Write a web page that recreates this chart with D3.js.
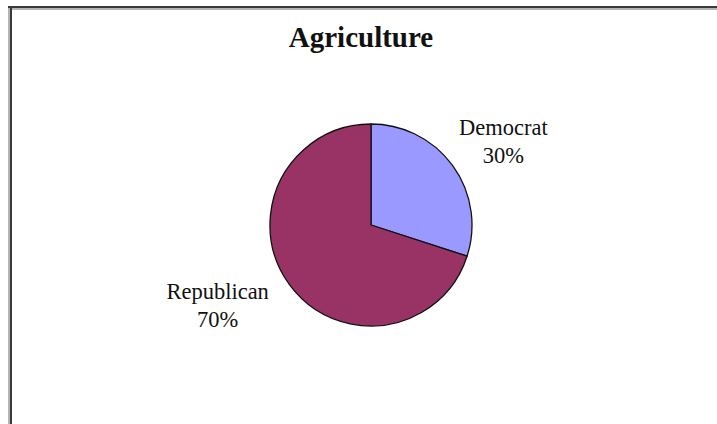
<!DOCTYPE html>
<html>
<head>
<meta charset="utf-8">
<script src="https://cdn.jsdelivr.net/npm/d3@7"></script>
<style>
  html, body { margin: 0; padding: 0; background: #fff; }
  svg { display: block; }
  text { font-family: "Liberation Serif", "Times New Roman", serif; fill: #111; }
</style>
</head>
<body>
<svg id="chart" width="717" height="424"></svg>
<script>
// Party share of agriculture contributions
const title = "Agriculture";
const parties = ["Democrat", "Republican"];
const shares = [30, 70];
const partyColors = ["#9999FF", "#993366"];

const W = 717, H = 424;
const svg = d3.select("#chart");

// Chart area frame (sunken border along the top and left edges)
svg.append("rect").attr("x", 8).attr("y", 6).attr("width", W - 8).attr("height", 2).attr("fill", "#3a3a3a");
svg.append("rect").attr("x", 12).attr("y", 8).attr("width", W - 12).attr("height", 2).attr("fill", "#b4b4b4");
svg.append("rect").attr("x", 8).attr("y", 8).attr("width", 2).attr("height", H - 8).attr("fill", "#b4b4b4");
svg.append("rect").attr("x", 10).attr("y", 8).attr("width", 2).attr("height", H - 8).attr("fill", "#3a3a3a");

// Title
svg.append("text")
  .attr("x", 361).attr("y", 47)
  .attr("text-anchor", "middle")
  .style("font-size", "29px").style("font-weight", "bold")
  .text(title);

// Pie
const cx = 371, cy = 225, radius = 101;
const data = parties.map((p, i) => ({ party: p, value: shares[i], color: partyColors[i] }));
const pie = d3.pie().value(d => d.value).sort(null);
const arc = d3.arc().innerRadius(0).outerRadius(radius);
const arcs = pie(data);

const g = svg.append("g").attr("transform", `translate(${cx},${cy})`);
g.selectAll("path.slice")
  .data(arcs)
  .join("path")
  .attr("class", "slice")
  .attr("d", arc)
  .attr("fill", d => d.data.color)
  .attr("stroke", "#111")
  .attr("stroke-width", 1.3)
  .attr("stroke-linejoin", "round");

// Outside data labels: name on the first line, percentage below
const labelArc = d3.arc().innerRadius(radius * 1.62).outerRadius(radius * 1.62);
const labelNudge = [[0, 6], [-21, -22]];
const lineGap = 28;
const labels = g.selectAll("g.lbl")
  .data(arcs)
  .join("g")
  .attr("class", "lbl")
  .attr("transform", (d, i) => {
    const [x, y] = labelArc.centroid(d);
    return `translate(${x + labelNudge[i][0]},${y + labelNudge[i][1]})`;
  });
labels.append("text")
  .attr("text-anchor", "middle")
  .attr("y", 0)
  .style("font-size", "22.5px")
  .text(d => d.data.party);
labels.append("text")
  .attr("text-anchor", "middle")
  .attr("y", lineGap)
  .style("font-size", "22.5px")
  .text(d => d3.format(".0%")(d.data.value / d3.sum(shares)));
</script>
</body>
</html>
